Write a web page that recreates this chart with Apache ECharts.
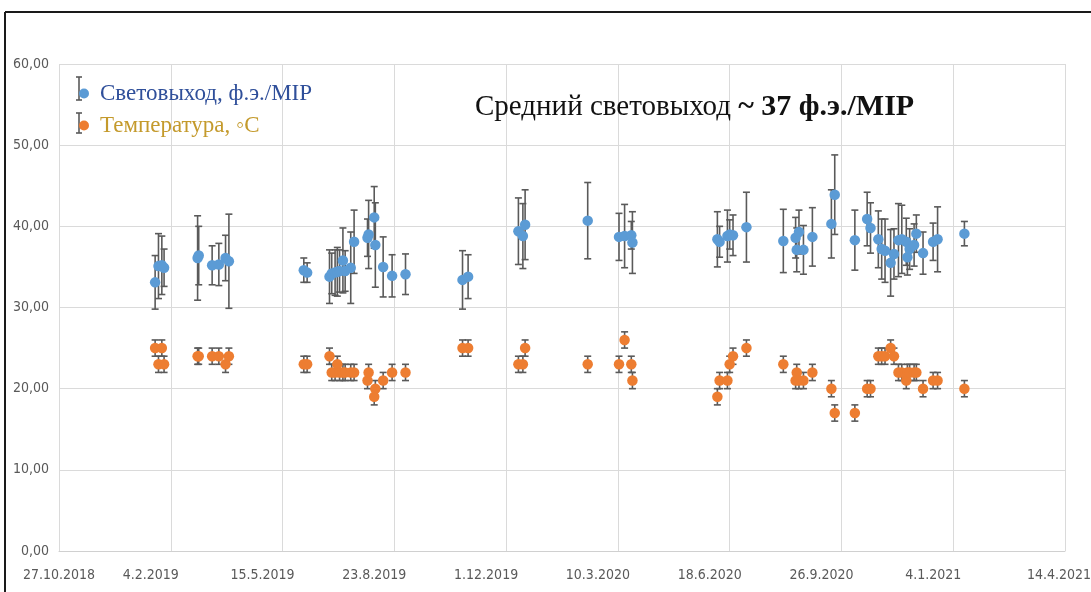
<!DOCTYPE html>
<html>
<head>
<meta charset="utf-8">
<script src="https://cdn.jsdelivr.net/npm/echarts@6/dist/echarts.min.js"></script>
<style>
  html, body { margin: 0; padding: 0; background: #ffffff; }
  #chart { width: 1091px; height: 592px; }
</style>
</head>
<body>
<div id="chart"></div>
<script>
// Measurement dates (one row per run)
const dates = [
  '2019-01-21','2019-01-24','2019-01-27','2019-01-29','2019-02-28','2019-03-01',
  '2019-03-13','2019-03-19','2019-03-25','2019-03-28','2019-06-03','2019-06-06',
  '2019-06-26','2019-06-28','2019-07-01','2019-07-03','2019-07-05','2019-07-08',
  '2019-07-10','2019-07-15','2019-07-18','2019-07-30','2019-07-31','2019-08-05',
  '2019-08-06','2019-08-13','2019-08-21','2019-09-02','2019-10-23','2019-10-28',
  '2019-12-12','2019-12-16','2019-12-18','2020-02-12','2020-03-11','2020-03-16',
  '2020-03-22','2020-03-23','2020-06-07','2020-06-09','2020-06-16','2020-06-18',
  '2020-06-21','2020-07-03','2020-08-05','2020-08-16','2020-08-17','2020-08-19',
  '2020-08-23','2020-08-31','2020-09-17','2020-09-20','2020-10-08','2020-10-19',
  '2020-10-22','2020-10-29','2020-11-01','2020-11-04','2020-11-09','2020-11-12',
  '2020-11-16','2020-11-19','2020-11-23','2020-11-24','2020-11-26','2020-11-30',
  '2020-12-02','2020-12-08','2020-12-17','2020-12-21','2021-01-14'
];

// Light yield, photoelectrons per MIP
const lightYield = [
  33.1, 35.1, 35.2, 34.9, 36.1, 36.4,
  35.2, 35.3, 36.1, 35.7, 34.6, 34.3,
  33.8, 34.2, 34.3, 34.4, 34.5, 35.8,
  34.5, 34.9, 38.1, 38.6, 39.0, 41.1,
  37.7, 35.0, 33.9, 34.1, 33.4, 33.8,
  39.4, 38.8, 40.2, 40.7, 38.7, 38.8,
  38.9, 38.0, 38.4, 38.1, 38.8, 39.0,
  38.9, 39.9, 38.2, 38.6, 37.1, 39.3,
  37.1, 38.7, 40.3, 43.9, 38.3, 40.9,
  39.8, 38.4, 37.2, 37.0, 35.5, 36.6,
  38.3, 38.4, 38.1, 36.2, 37.2, 37.7,
  39.1, 36.7, 38.1, 38.4, 39.1
];

// Light yield uncertainty (±)
const lightYieldErr = [
  3.3, 4.0, 3.6, 2.3, 5.2, 3.6,
  2.4, 2.6, 2.8, 5.8, 1.5, 1.2,
  3.3, 2.5, 2.8, 3.0, 2.6, 4.0,
  2.5, 4.4, 3.9, 2.3, 4.2, 3.8,
  5.2, 3.7, 2.6, 2.5, 3.6, 2.7,
  4.1, 4.0, 4.3, 4.7, 2.9, 3.9,
  1.7, 3.8, 3.4, 1.9, 3.2, 1.8,
  2.5, 4.3, 3.9, 2.5, 2.7, 2.7,
  3.0, 3.6, 4.2, 4.9, 3.7, 3.3,
  3.1, 3.5, 3.7, 3.9, 4.1, 3.1,
  4.5, 4.2, 2.9, 2.2, 2.5, 2.6,
  2.3, 2.6, 2.3, 4.0, 1.5
];

// Temperature, °C
const temperature = [
  25, 23, 25, 23, 24, 24,
  24, 24, 23, 24, 23, 23,
  24, 22, 22, 23, 22, 22,
  22, 22, 22, 21, 22, 19,
  20, 21, 22, 22, 25, 25,
  23, 23, 25, 23, 23, 26,
  23, 21, 19, 21, 21, 23,
  24, 25, 23, 21, 22, 21,
  21, 22, 20, 17, 17, 20,
  20, 24, 24, 24, 25, 24,
  22, 22, 21, 22, 22, 22,
  22, 20, 21, 21, 20
];

// Thermometer uncertainty (±), same for every reading
const TEMP_ERR = 1;

// Axis ticks: spreadsheet day serials, one label every 100 days
const X_MIN = 43400;   // 27.10.2018
const X_MAX = 44300;   // 14.4.2021
const X_STEP = 100;
const Y_MIN = 0, Y_MAX = 60, Y_STEP = 10;

const LIGHT_NAME = 'Световыход, ф.э./MIP';
const TEMP_NAME = 'Температура, ◦C';

const SERIAL_OFFSET = 25569; // days between 30.12.1899 and 1.1.1970
const DAY_MS = 86400000;

function toSerial(iso) {
  const [y, m, d] = iso.split('-').map(Number);
  return Date.UTC(y, m - 1, d) / DAY_MS + SERIAL_OFFSET;
}
function serialText(v) {
  const dt = new Date((v - SERIAL_OFFSET) * DAY_MS);
  return dt.getUTCDate() + '.' + (dt.getUTCMonth() + 1) + '.' + dt.getUTCFullYear();
}
// Inner date labels sit a little to the left of their gridline; the last one is kept inside the frame
function serialLabel(v) {
  const t = serialText(v);
  if (v === X_MIN) return t;
  if (v === X_MAX) return '{e|' + t + '}';
  return '{s|' + t + '}';
}

const xs = dates.map(toSerial);
const lightPts = xs.map((x, i) => [x, lightYield[i]]);
const lightBars = xs.map((x, i) => [x, lightYield[i], lightYieldErr[i]]);
const tempPts = xs.map((x, i) => [x, temperature[i]]);
const tempBars = xs.map((x, i) => [x, temperature[i], TEMP_ERR]);

const BAR_COLOR = '#5a5a5a';
const CAP_HALF = 3.5;

function renderErrorBar(params, api) {
  const x = api.value(0), y = api.value(1), e = api.value(2);
  const top = api.coord([x, y + e]);
  const bot = api.coord([x, y - e]);
  const style = { stroke: BAR_COLOR, lineWidth: 1.6, fill: null };
  return {
    type: 'group',
    children: [
      { type: 'line', shape: { x1: top[0], y1: top[1], x2: bot[0], y2: bot[1] }, style },
      { type: 'line', shape: { x1: top[0] - CAP_HALF, y1: top[1], x2: top[0] + CAP_HALF, y2: top[1] }, style },
      { type: 'line', shape: { x1: bot[0] - CAP_HALF, y1: bot[1], x2: bot[0] + CAP_HALF, y2: bot[1] }, style }
    ]
  };
}

const AXIS_FONT = "'Liberation Sans Narrow', 'DejaVu Sans Condensed', 'Liberation Sans', sans-serif";
const SERIF = "'Liberation Serif', 'DejaVu Serif', serif";
const AXIS_TEXT = { color: '#595959', fontFamily: AXIS_FONT, fontSize: 14 };

// Small error-bar glyphs drawn behind the legend dots
function legendGlyph(cx, y1, y2) {
  const s = { stroke: BAR_COLOR, lineWidth: 1.6 };
  return [
    { type: 'line', z: 1, shape: { x1: cx, y1: y1, x2: cx, y2: y2 }, style: s },
    { type: 'line', z: 1, shape: { x1: cx - 3, y1: y1, x2: cx + 3, y2: y1 }, style: s },
    { type: 'line', z: 1, shape: { x1: cx - 3, y1: y2, x2: cx + 3, y2: y2 }, style: s }
  ];
}

const chart = echarts.init(document.getElementById('chart'), null, { renderer: 'canvas' });

chart.setOption({
  backgroundColor: '#ffffff',
  animation: false,
  title: {
    text: '{n|Средний световыход }{b|~ 37 ф.э./MIP}',
    left: 470,
    top: 87,
    textStyle: {
      rich: {
        n: { fontFamily: SERIF, fontSize: 29, fontWeight: 'normal', color: '#111111' },
        b: { fontFamily: SERIF, fontSize: 30, fontWeight: 'bold', color: '#111111' }
      }
    }
  },
  legend: {
    orient: 'vertical',
    left: 74,
    top: 77,
    itemWidth: 10,
    itemHeight: 10,
    itemGap: 9,
    selectedMode: false,
    data: [
      { name: LIGHT_NAME, icon: 'circle', textStyle: { color: '#2f4f9a' } },
      { name: TEMP_NAME, icon: 'circle', textStyle: { color: '#c49a2c' } }
    ],
    textStyle: { fontFamily: SERIF, fontSize: 23, padding: [0, 0, 0, 6] }
  },
  graphic: [
    // frame of the figure
    { type: 'line', shape: { x1: 5, y1: 12, x2: 1091, y2: 12 }, style: { stroke: '#1a1a1a', lineWidth: 2 } },
    { type: 'line', shape: { x1: 5, y1: 12, x2: 5, y2: 592 }, style: { stroke: '#1a1a1a', lineWidth: 2 } },
    ...legendGlyph(79, 77, 100),
    ...legendGlyph(79, 113, 133)
  ],
  grid: { left: 59, right: 26, top: 64, bottom: 41, containLabel: false, outerBoundsMode: 'none' },
  xAxis: {
    type: 'value',
    min: X_MIN,
    max: X_MAX,
    interval: X_STEP,
    axisLine: { show: true, lineStyle: { color: '#d0d0d0', width: 1 } },
    axisTick: { show: false },
    axisLabel: Object.assign({
      formatter: serialLabel,
      margin: 17,
      rich: {
        s: Object.assign({ padding: [0, 40, 0, 0] }, AXIS_TEXT),
        e: Object.assign({ padding: [0, 12, 0, 0] }, AXIS_TEXT)
      }
    }, AXIS_TEXT),
    splitLine: { show: true, lineStyle: { color: '#dadada', width: 1 } }
  },
  yAxis: {
    type: 'value',
    min: Y_MIN,
    max: Y_MAX,
    interval: Y_STEP,
    axisLine: { show: false },
    axisTick: { show: false },
    axisLabel: Object.assign({
      formatter: v => v.toFixed(2).replace('.', ','),
      margin: 10
    }, AXIS_TEXT),
    splitLine: { show: true, lineStyle: { color: '#dadada', width: 1 } }
  },
  series: [
    {
      type: 'custom',
      renderItem: renderErrorBar,
      data: lightBars,
      encode: { x: 0, y: [1] },
      z: 2,
      silent: true
    },
    {
      type: 'custom',
      renderItem: renderErrorBar,
      data: tempBars,
      encode: { x: 0, y: [1] },
      z: 2,
      silent: true
    },
    {
      name: LIGHT_NAME,
      type: 'scatter',
      data: lightPts,
      symbol: 'circle',
      symbolSize: 10.5,
      itemStyle: { color: '#5b9bd5', opacity: 1 },
      z: 3
    },
    {
      name: TEMP_NAME,
      type: 'scatter',
      data: tempPts,
      symbol: 'circle',
      symbolSize: 10.5,
      itemStyle: { color: '#ed7d31', opacity: 1 },
      z: 3
    }
  ]
});
</script>
</body>
</html>
